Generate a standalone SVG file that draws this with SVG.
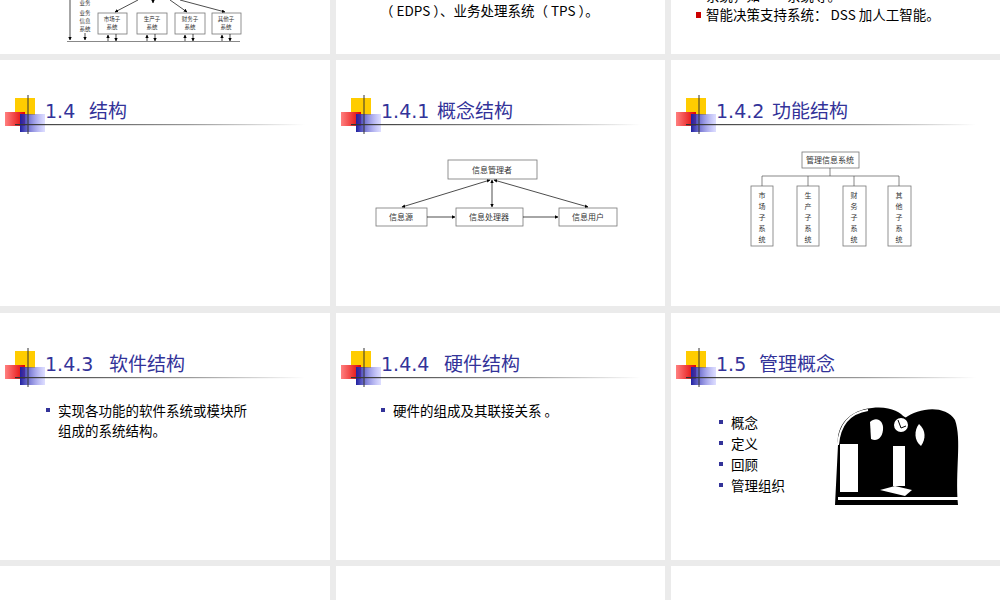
<svg xmlns="http://www.w3.org/2000/svg" width="1000" height="600" viewBox="0 0 1000 600">
<defs>
<linearGradient id="hl" x1="0" x2="1"><stop offset="0" stop-color="#333"/><stop offset="0.6" stop-color="#999"/><stop offset="1" stop-color="#fff"/></linearGradient>
<linearGradient id="rg" x1="0" x2="1"><stop offset="0" stop-color="#ff8080"/><stop offset="1" stop-color="#e00000"/></linearGradient>
<linearGradient id="bg" x1="0" x2="1"><stop offset="0" stop-color="#2020a0"/><stop offset="1" stop-color="#9090ff" stop-opacity="0.3"/></linearGradient>
<marker id="a" viewBox="0 0 10 10" refX="9" refY="5" markerWidth="5" markerHeight="5" orient="auto-start-reverse"><path d="M0,0L10,5L0,10z" fill="#000"/></marker>
<g id="deco">
<rect x="15" y="38" width="20" height="17" fill="#ffcc00"/>
<rect x="5" y="52" width="20" height="14" fill="url(#rg)"/>
<rect x="20" y="54" width="25" height="18" fill="url(#bg)"/>
<line x1="28" y1="35" x2="28" y2="74" stroke="#333"/>
<rect x="15" y="64" width="290" height="1.2" fill="url(#hl)"/>
</g>
</defs>
<style>
.t{font-family:"DejaVu Sans","Noto Sans CJK SC",sans-serif;font-size:19px;fill:#333399}
.b{font-family:"Noto Sans CJK SC",sans-serif;font-size:13.5px;fill:#000}
.s{font-family:"Liberation Serif","Noto Sans CJK SC",serif;font-size:8px;fill:#333;text-anchor:middle}
.xs{font-family:"Liberation Serif","Noto Sans CJK SC",serif;font-size:5.5px;fill:#333;text-anchor:middle}
.v{font-size:7px}
.bx{fill:#fff;stroke:#777;stroke-width:0.8}
.ln{stroke:#000;stroke-width:0.7;fill:none}
</style>
<rect width="1000" height="600" fill="#ebebeb"/>
<g id="slides" fill="#fff">
<rect x="0" y="0" width="330" height="54"/><rect x="336" y="0" width="329" height="54"/><rect x="671" y="0" width="329" height="54"/>
<rect x="0" y="60" width="330" height="246"/><rect x="336" y="60" width="329" height="246"/><rect x="671" y="60" width="329" height="246"/>
<rect x="0" y="313" width="330" height="247"/><rect x="336" y="313" width="329" height="247"/><rect x="671" y="313" width="329" height="247"/>
<rect x="0" y="566" width="330" height="34"/><rect x="336" y="566" width="329" height="34"/><rect x="671" y="566" width="329" height="34"/>
</g>
<g id="topleft">
<line class="ln" x1="70" y1="0" x2="70" y2="40" marker-end="url(#a)"/>
<line x1="67" y1="41.5" x2="240" y2="41.5" stroke="#888" stroke-width="1.2"/>
<text class="xs" x="85" y="5">业务</text><text class="xs" x="85" y="15">业务</text><text class="xs" x="85" y="23">信息</text><text class="xs" x="85" y="31">系统</text>
<line class="ln" x1="85" y1="33" x2="85" y2="40" marker-end="url(#a)"/>
<rect class="bx" x="98" y="13" width="29" height="21"/><text class="xs" x="112" y="21">市场子</text><text class="xs" x="112" y="29">系统</text>
<rect class="bx" x="137" y="13" width="30" height="21"/><text class="xs" x="152" y="21">生产子</text><text class="xs" x="152" y="29">系统</text>
<rect class="bx" x="175" y="13" width="30" height="21"/><text class="xs" x="190" y="21">财务子</text><text class="xs" x="190" y="29">系统</text>
<rect class="bx" x="212" y="13" width="29" height="21"/><text class="xs" x="226" y="21">其他子</text><text class="xs" x="226" y="29">系统</text>
<line class="ln" x1="138" y1="0" x2="115" y2="12" marker-end="url(#a)"/>
<line class="ln" x1="153" y1="0" x2="153" y2="3" marker-end="url(#a)"/>
<line class="ln" x1="170" y1="0" x2="187" y2="12" marker-end="url(#a)"/>
<line class="ln" x1="180" y1="0" x2="225" y2="12" marker-end="url(#a)"/>
<line class="ln" x1="108" y1="41" x2="108" y2="35" marker-end="url(#a)"/><line class="ln" x1="116" y1="34" x2="116" y2="41" marker-end="url(#a)"/>
<line class="ln" x1="147" y1="41" x2="147" y2="35" marker-end="url(#a)"/><line class="ln" x1="155" y1="34" x2="155" y2="41" marker-end="url(#a)"/>
<line class="ln" x1="185" y1="41" x2="185" y2="35" marker-end="url(#a)"/><line class="ln" x1="193" y1="34" x2="193" y2="41" marker-end="url(#a)"/>
<line class="ln" x1="222" y1="41" x2="222" y2="35" marker-end="url(#a)"/><line class="ln" x1="230" y1="34" x2="230" y2="41" marker-end="url(#a)"/>
</g>
<g id="topmid"><text class="b" x="380" y="16">（ EDPS ）、业务处理系统（ TPS ）。</text></g>
<g id="topright">
<text class="b" x="706" y="1">系统，如……系统等。</text>
<rect x="696" y="12" width="5" height="6" fill="#cc0000"/>
<text class="b" x="706" y="20">智能决策支持系统： DSS 加人工智能。</text>
</g>
<g id="s14"><use href="#deco" y="60"/><text class="t" x="45" y="118">1.4<tspan x="89">结构</tspan></text></g>
<g id="s141"><use href="#deco" x="336" y="60"/><text class="t" x="381" y="118">1.4.1<tspan x="437">概念结构</tspan></text>
<rect class="bx" x="448" y="160" width="89" height="19"/><text class="s" x="492" y="173">信息管理者</text>
<rect class="bx" x="376" y="208" width="51" height="18"/><text class="s" x="401" y="220">信息源</text>
<rect class="bx" x="456" y="208" width="67" height="18"/><text class="s" x="489" y="220">信息处理器</text>
<rect class="bx" x="559" y="208" width="58" height="18"/><text class="s" x="588" y="220">信息用户</text>
</g>
<g id="s142"><use href="#deco" x="671" y="60"/><text class="t" x="716" y="118">1.4.2<tspan x="772">功能结构</tspan></text>
<rect class="bx" x="802" y="152" width="57" height="16"/><text class="s" x="830" y="163">管理信息系统</text>
<rect class="bx" x="751" y="186" width="22" height="60"/><rect class="bx" x="797" y="186" width="22" height="60"/><rect class="bx" x="843" y="186" width="23" height="60"/><rect class="bx" x="888" y="186" width="23" height="60"/>
<text class="xs v" x="762" y="198">市</text><text class="xs v" x="762" y="209">场</text><text class="xs v" x="762" y="220">子</text><text class="xs v" x="762" y="231">系</text><text class="xs v" x="762" y="242">统</text>
<text class="xs v" x="808" y="198">生</text><text class="xs v" x="808" y="209">产</text><text class="xs v" x="808" y="220">子</text><text class="xs v" x="808" y="231">系</text><text class="xs v" x="808" y="242">统</text>
<text class="xs v" x="854" y="198">财</text><text class="xs v" x="854" y="209">务</text><text class="xs v" x="854" y="220">子</text><text class="xs v" x="854" y="231">系</text><text class="xs v" x="854" y="242">统</text>
<text class="xs v" x="899" y="198">其</text><text class="xs v" x="899" y="209">他</text><text class="xs v" x="899" y="220">子</text><text class="xs v" x="899" y="231">系</text><text class="xs v" x="899" y="242">统</text>
</g>
<g id="connectors">
<line class="ln" x1="427" y1="217" x2="455" y2="217" marker-end="url(#a)"/>
<line class="ln" x1="523" y1="217" x2="558" y2="217" marker-end="url(#a)"/>
<line class="ln" x1="492" y1="180" x2="492" y2="207" marker-start="url(#a)" marker-end="url(#a)"/>
<line class="ln" x1="490" y1="180" x2="402" y2="207" marker-start="url(#a)" marker-end="url(#a)"/>
<line class="ln" x1="494" y1="180" x2="588" y2="207" marker-start="url(#a)" marker-end="url(#a)"/>
<path class="ln" d="M830,168V176M762,186V176H899V186M808,176V186M854,176V186" style="stroke:#555"/>
</g>
<g id="s143"><use href="#deco" y="313"/><text class="t" x="45" y="371">1.4.3<tspan x="109">软件结构</tspan></text>
<rect x="46" y="408" width="4" height="4" fill="#333399"/>
<text class="b" x="58" y="416">实现各功能的软件系统或模块所</text><text class="b" x="58" y="436">组成的系统结构。</text></g>
<g id="s144"><use href="#deco" x="336" y="313"/><text class="t" x="381" y="371">1.4.4<tspan x="444">硬件结构</tspan></text>
<rect x="381" y="408" width="4" height="4" fill="#333399"/>
<text class="b" x="393" y="416">硬件的组成及其联接关系 。</text></g>
<g id="s15"><use href="#deco" x="671" y="313"/><text class="t" x="716" y="371">1.5<tspan x="759">管理概念</tspan></text>
<rect x="719" y="420" width="4" height="4" fill="#333399"/><text class="b" x="731" y="428">概念</text>
<rect x="719" y="441" width="4" height="4" fill="#333399"/><text class="b" x="731" y="449">定义</text>
<rect x="719" y="462" width="4" height="4" fill="#333399"/><text class="b" x="731" y="470">回顾</text>
<rect x="719" y="483" width="4" height="4" fill="#333399"/><text class="b" x="731" y="491">管理组织</text>
<g id="clipart">
<path d="M838,445C836,425 850,410 872,408C890,406 900,412 905,418C918,408 945,404 955,420C962,440 955,470 958,505H835Z" fill="#000"/>
<path d="M838,445C840,420 855,412 868,410" stroke="#fff" stroke-width="2" fill="none"/>
<rect x="840" y="444" width="18" height="48" fill="#fff"/>
<rect x="893" y="446" width="12" height="40" fill="#fff"/>
<circle cx="901" cy="425" r="8" fill="#fff" stroke="#000" stroke-width="2"/>
<path d="M898,420L901,428L906,426" stroke="#000" fill="none"/>
<path d="M870,422C876,416 884,420 883,430C882,438 877,442 871,439Z" fill="#fff"/>
<path d="M919,424C914,430 914,441 921,446C926,439 926,430 919,424Z" fill="#fff"/>
<path d="M880,490L895,486L912,490L905,496Z" fill="#fff"/>
<rect x="838" y="497" width="120" height="3" fill="#fff"/>
</g>
</g>
</svg>
